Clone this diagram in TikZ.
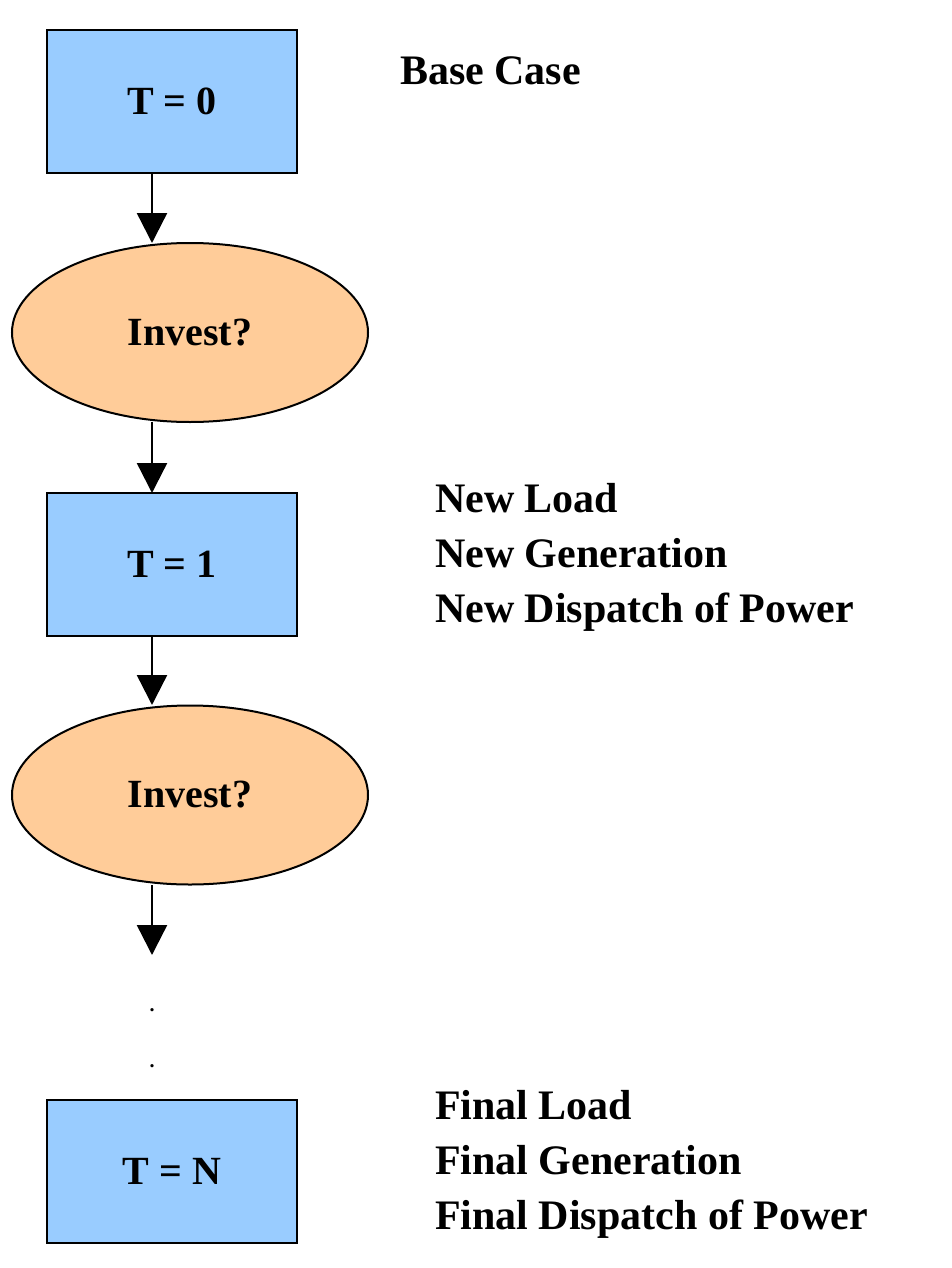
\documentclass[tikz,border=0pt]{standalone}
\usepackage{fontspec}
\setmainfont{Liberation Serif}
\usetikzlibrary{shapes.geometric,arrows.meta}
\definecolor{bx}{RGB}{153,204,255}
\definecolor{el}{RGB}{255,204,153}
\begin{document}
\begin{tikzpicture}[x=0.5pt,y=-0.5pt,
  box/.style={draw,line width=1pt,fill=bx,minimum width=125pt,minimum height=71.5pt,font=\fontsize{20}{24}\selectfont\bfseries},
  ell/.style={draw,ellipse,line width=1pt,fill=el,minimum width=178pt,minimum height=89.5pt,font=\fontsize{20}{24}\selectfont\bfseries},
  arr/.style={line width=1.2pt,-{Triangle[length=15pt,width=15pt]}},
  lab/.style={anchor=north west,align=left,font=\fontsize{21}{27.5}\selectfont\bfseries}]
\useasboundingbox (0,0) rectangle (952,1268);
\node[box] (t0) at (172,101.5) {T = 0};
\node[ell] (e1) at (190,332.5) {Invest?};
\node[box] (t1) at (172,564.5) {T = 1};
\node[ell] (e2) at (190,795) {Invest?};
\node[box] (tn) at (172,1171.5) {T = N};
\coordinate (c1) at (152,173);
\coordinate (c2) at (152,243);
\coordinate (c3) at (152,422);
\coordinate (c4) at (152,493);
\coordinate (c5) at (152,636);
\coordinate (c6) at (152,705);
\coordinate (c7) at (152,885);
\coordinate (c8) at (152,955);
\draw[arr] (c1) -- (c2);
\draw[arr] (c3) -- (c4);
\draw[arr] (c5) -- (c6);
\draw[arr] (c7) -- (c8);
\node (d1) at (152,1010) {\textbf{.}};
\node (d2) at (152,1066) {\textbf{.}};
\node[lab] (b) at (393,50) {Base Case};
\node[lab] (n) at (428,476) {New Load\\New Generation\\New Dispatch of Power};
\node[lab] (f) at (428,1083) {Final Load\\Final Generation\\Final Dispatch of Power};
\end{tikzpicture}
\end{document}
